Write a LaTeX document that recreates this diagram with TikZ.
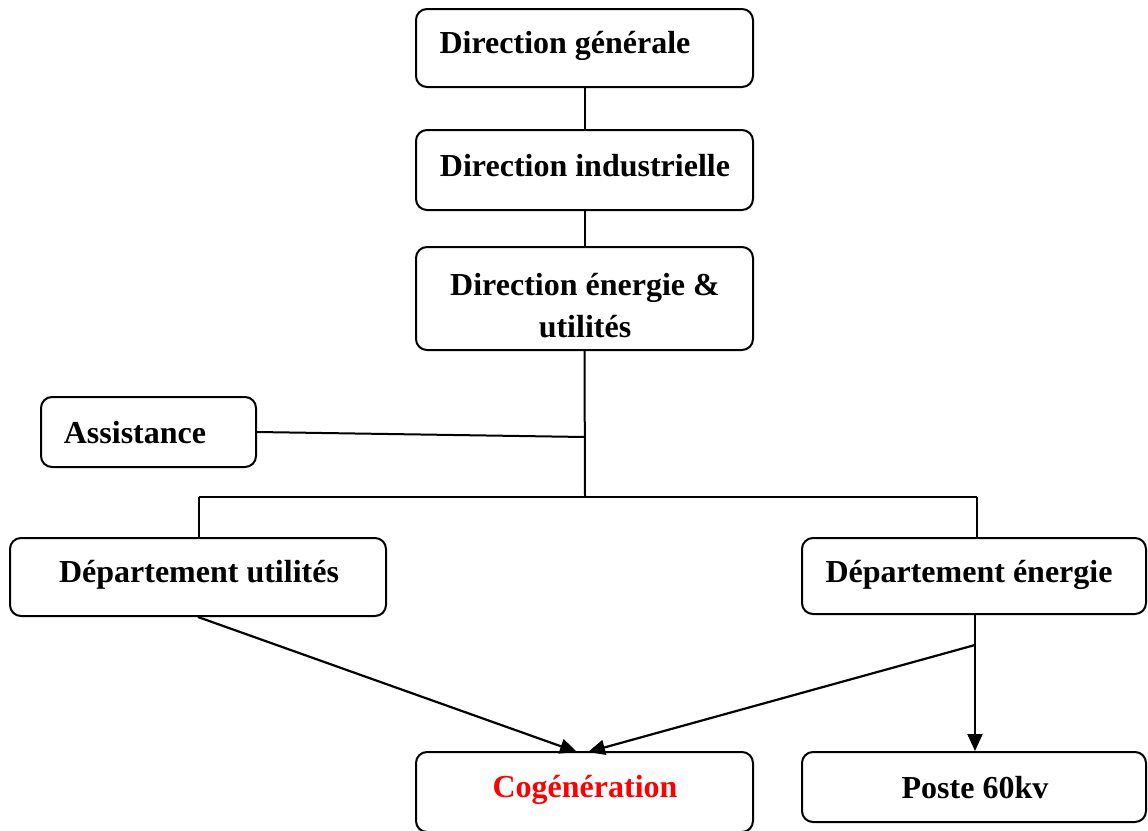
\documentclass[tikz,border=0pt]{standalone}
\usepackage{fontspec}
\setmainfont{Liberation Serif}
\usetikzlibrary{arrows.meta}
\begin{document}
\begin{tikzpicture}[x=1pt,y=-1pt,
  box/.style={draw,line width=2pt,rounded corners=11pt,inner sep=0pt},
  lbl/.style={font=\fontsize{32}{42}\selectfont\bfseries,inner sep=0pt,align=center},
  conn/.style={line width=2pt},
  arr/.style={line width=2.2pt,-{Triangle[length=17pt,width=15pt]}}]
\useasboundingbox (0,0) rectangle (1148,830);
\clip (0,0) rectangle (1148,830);
% boxes
\node[box,minimum width=337pt,minimum height=78pt] (dg) at (584.5,48) {};
\node[box,minimum width=337pt,minimum height=80pt] (di) at (584.5,170) {};
\node[box,minimum width=337pt,minimum height=103pt] (de) at (584.5,298.5) {};
\node[box,minimum width=215pt,minimum height=70pt] (as) at (148.5,432) {};
\node[box,minimum width=376pt,minimum height=78pt] (du) at (198,577) {};
\node[box,minimum width=344pt,minimum height=76pt] (den) at (974,576) {};
\node[box,minimum width=337pt,minimum height=80pt] (co) at (584.5,792) {};
\node[box,minimum width=344pt,minimum height=70pt] (po) at (974,787) {};
% texts
\node[lbl] (tdg) at (565,46) {Direction générale};
\node[lbl] (tdi) at (585,166) {Direction industrielle};
\node[lbl] (tde) at (585,306) {Direction énergie \&\\utilités};
\node[lbl] (tas) at (135,433) {Assistance};
\node[lbl] (tdu) at (199,575) {Département utilités};
\node[lbl] (tden) at (969,575) {Département énergie};
\node[lbl,text=red] (tco) at (585,790) {Cogénération};
\node[lbl] (tpo) at (975,788) {Poste 60kv};
% coordinates
\coordinate (j1) at (585,437);
\coordinate (j2) at (585,497);
\coordinate (hl) at (199,497);
\coordinate (hr) at (977,497);
\coordinate (k) at (975,645);
\coordinate (cot1) at (577,752);
\coordinate (cot2) at (588,752);
% connectors
\draw[conn] (dg.south) -- (di.north);
\draw[conn] (di.south) -- (de.north);
\draw[conn] (de.south) -- (j2);
\draw[conn] (as.east) -- (j1);
\draw[conn] (hl) -- (hr);
\draw[conn] (hl) -- (hl |- du.north);
\draw[conn] (hr) -- (hr |- den.north);
\draw[arr] (du.south) -- (cot1);
\draw[conn] (k |- den.south) -- (k);
\draw[arr] (k) -- (cot2);
\draw[arr] (k) -- (k |- po.north);
\end{tikzpicture}
\end{document}
